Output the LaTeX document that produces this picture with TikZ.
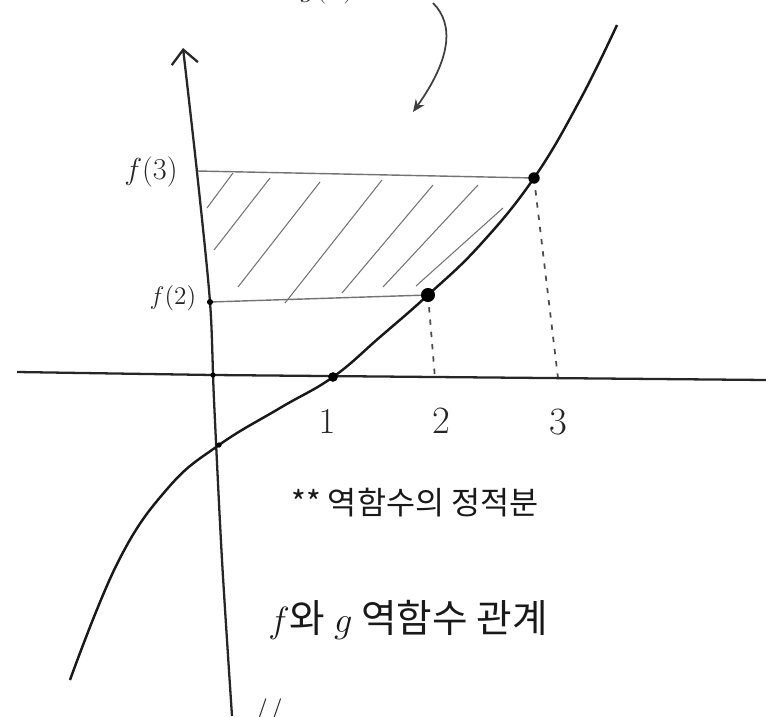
\documentclass[tikz,border=0pt]{standalone}
\usepackage{fontspec}
\newfontfamily\kr{Noto Sans CJK KR}
\usetikzlibrary{arrows.meta}
\begin{document}
\begin{tikzpicture}[x=0.02cm,y=-0.02cm,
  axis/.style={line width=1.3pt, black!85},
  curvestyle/.style={line width=1.4pt, black!90},
  level/.style={line width=0.8pt, black!55},
  hatch/.style={line width=0.6pt, black!55},
  drop/.style={line width=1pt, black!70, dash pattern=on 3pt off 4pt},
  dot/.style={circle, fill=black, inner sep=0pt, minimum size=#1},
  dot/.default=3pt,
  lbl/.style={inner sep=0pt, black!85},
  note/.style={inner sep=0pt, black!90, font=\kr\fontsize{18}{20}\selectfont}]
\useasboundingbox (0,0) rectangle (766,716);
\clip (0,0) rectangle (766,716);
% key points
\coordinate (O) at (213,375);
\coordinate (P1) at (333,377);
\coordinate (P2) at (428,295);
\coordinate (P3) at (534,178);
\coordinate (Y2) at (210,302);
\coordinate (Y3) at (197,171);
\coordinate (X2) at (435,378);
\coordinate (X3) at (558,378);
\coordinate (YI) at (219,445);
\coordinate (XL) at (17,372);
\coordinate (XR) at (766,380);
\coordinate (A0) at (433,3);
\coordinate (A1) at (413,112);
% hatching
\draw[hatch] (233,173) -- (207,208);
\draw[hatch] (270,178) -- (214,250);
\draw[hatch] (320,182) -- (238,287);
\draw[hatch] (382,180) -- (285,303);
\draw[hatch] (433,185) -- (342,293);
\draw[hatch] (478,185) -- (383,287);
\draw[hatch] (503,208) -- (416,286);
% level lines
\draw[level] (Y3) -- (P3);
\draw[level] (Y2) -- (P2);
% dashed drops
\draw[drop] (P3) -- (X3);
\draw[drop] (P2) -- (X2);
% axes
\draw[axis] (XL) -- (O) -- (XR);
\draw[axis, -{Straight Barb[length=8pt,width=15pt]}] plot[smooth] coordinates {(232,716) (222,560) (214,400) (210,302) (197,172) (183,48)};
% curve
\draw[curvestyle] plot[smooth, tension=0.7] coordinates {(70,680) (118,562) (168,488) (219,445) (280,408) (333,377) (380,337) (428,295) (480,245) (534,178) (580,100) (617,25)};
% dots
\node[dot=5.5pt] (d1) at (P1) {};
\node[dot=8pt] (d2) at (P2) {};
\node[dot=6.5pt] (d3) at (P3) {};
\node[dot=3pt] (dO) at (O) {};
\node[dot=3.5pt] (dY2) at (Y2) {};
\node[dot=3pt] (dYI) at (YI) {};
% labels
\node[lbl, font=\fontsize{17}{19}\selectfont] (f3) at (151,172) {$f(3)$};
\node[lbl, font=\fontsize{15}{17}\selectfont] (f2) at (173,298) {$f(2)$};
\node[lbl, font=\fontsize{22}{24}\selectfont] (n1) at (327,422) {$1$};
\node[lbl, font=\fontsize{22}{24}\selectfont] (n2) at (441,421) {2};
\node[lbl, font=\fontsize{22}{24}\selectfont] (n3) at (558,422) {3};
% arrow to curve with cut-off label
\node[lbl, anchor=base west, font=\fontsize{18}{20}\selectfont] (g) at (300,-3) {$g(x)$};
\draw[line width=1pt, black!75, -{Stealth[length=7pt,width=6pt]}] (A0) .. controls (455,25) and (450,60) .. (A1);
% notes
\node[note] (t1) at (415,503) {** 역함수의 정적분};
\node[note, font=\kr\fontsize{22}{24}\selectfont] (t2) at (408,620) {$f$와 $g$ 역함수 관계};
\node[lbl, font=\fontsize{18}{20}\selectfont, anchor=north] (mk) at (268,698) {//};
\end{tikzpicture}
\end{document}
